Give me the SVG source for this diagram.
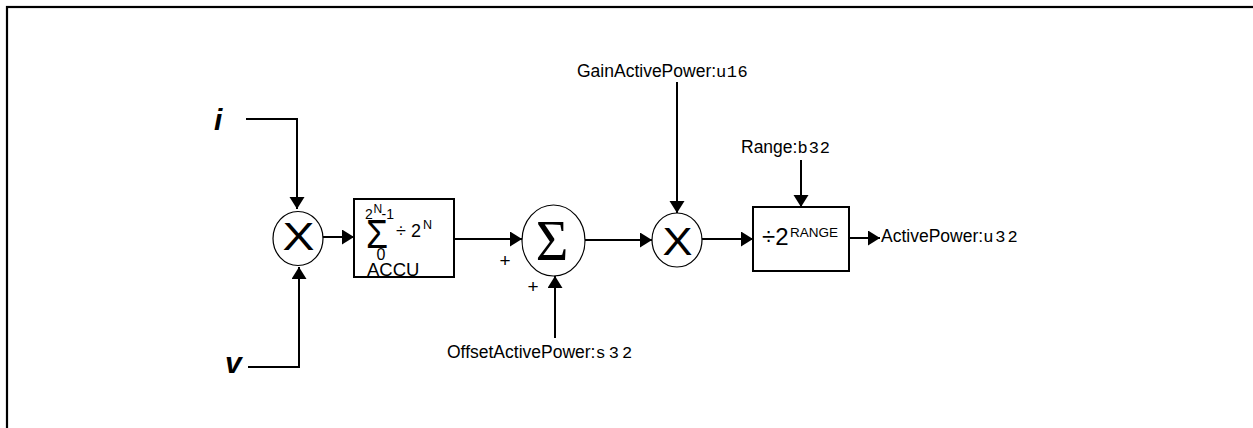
<svg xmlns="http://www.w3.org/2000/svg" width="1253" height="428" viewBox="0 0 1253 428">
<style>
.t{font-family:"Liberation Sans",Arial,sans-serif;font-size:17.5px;fill:#000}
.m{font-family:"Liberation Mono","Courier New",monospace;font-size:17px;fill:#000}
.io{font-family:"Liberation Sans",Arial,sans-serif;font-size:30px;font-weight:bold;font-style:italic;fill:#000}
.c{fill:#fff;stroke:#000;stroke-width:1.2}
.b{fill:#fff;stroke:#000;stroke-width:2}
.w{fill:none;stroke:#000;stroke-width:2}
</style>
<defs>
<marker id="ah" markerUnits="userSpaceOnUse" markerWidth="14" markerHeight="16" refX="12" refY="7.5" orient="auto">
<path d="M0,0 L12,7.5 L0,15 Z" fill="#000"/>
</marker>
</defs>
<rect x="0" y="0" width="1253" height="428" fill="#fff"/>
<rect id="frame" x="7" y="7" width="1270" height="450" fill="none" stroke="#000" stroke-width="2.2"/>
<g id="connectors">
<path class="w" d="M246,119 H297 V209" marker-end="url(#ah)"/>
<path class="w" d="M248,367 H299 V267" marker-end="url(#ah)"/>
<path class="w" d="M323,237 H354" marker-end="url(#ah)"/>
<path class="w" d="M455,239 H522" marker-end="url(#ah)"/>
<path class="w" d="M555,338 V276" marker-end="url(#ah)"/>
<path class="w" d="M585,240 H652" marker-end="url(#ah)"/>
<path class="w" d="M677,82 V213" marker-end="url(#ah)"/>
<path class="w" d="M702,239 H753" marker-end="url(#ah)"/>
<path class="w" d="M801,160 V207" marker-end="url(#ah)"/>
<path class="w" d="M849,238 H880" marker-end="url(#ah)"/>
</g>
<g id="input-i"><text class="io" x="214" y="130">i</text></g>
<g id="input-v"><text class="io" x="225" y="373">v</text></g>
<g id="mult1">
<ellipse class="c" cx="298" cy="238.5" rx="25" ry="27"/>
<text class="t" x="298.5" y="250" style="font-size:39px" text-anchor="middle" textLength="32" lengthAdjust="spacingAndGlyphs">X</text>
</g>
<g id="accu">
<rect class="b" x="354" y="199" width="100" height="78"/>
<text class="t" x="365" y="219" style="font-size:14px">2</text>
<text class="t" x="373.5" y="213" style="font-size:12px">N</text>
<text class="t" x="381.5" y="219" style="font-size:14px">-1</text>
<text class="t" x="366" y="248" style="font-size:40px" textLength="22" lengthAdjust="spacingAndGlyphs">Σ</text>
<text class="t" x="396" y="237" style="font-size:18px">÷ 2</text>
<text class="t" x="423" y="229" style="font-size:12.5px">N</text>
<text class="t" x="376.5" y="260" style="font-size:16px">0</text>
<text class="t" x="367" y="275.5" style="font-size:18.5px">ACCU</text>
</g>
<g id="sum">
<ellipse class="c" cx="553.5" cy="240.5" rx="31.5" ry="35.5"/>
<text x="552" y="260" font-family="'Liberation Serif','Times New Roman',serif" font-size="56" text-anchor="middle">Σ</text>
<text class="t" x="505" y="266.5" text-anchor="middle" style="font-size:19px">+</text>
<text class="t" x="533" y="292.5" text-anchor="middle" style="font-size:19px">+</text>
</g>
<g id="offset"><text class="t" x="447" y="358">OffsetActivePower:<tspan class="m" letter-spacing="3">s32</tspan></text></g>
<g id="mult2">
<ellipse class="c" cx="677" cy="240" rx="25" ry="27"/>
<text class="t" x="677.5" y="255" style="font-size:39px" text-anchor="middle" textLength="30" lengthAdjust="spacingAndGlyphs">X</text>
</g>
<g id="gain"><text class="t" x="577" y="77">GainActivePower:<tspan class="m" letter-spacing="0.5">u16</tspan></text></g>
<g id="range"><text class="t" x="741" y="153">Range:<tspan class="m" letter-spacing="1">b32</tspan></text></g>
<g id="divrange">
<rect class="b" x="753" y="207" width="96" height="64"/>
<text class="t" x="762" y="245" style="font-size:24px">÷2</text>
<text class="t" x="790" y="237" style="font-size:13.5px">RANGE</text>
</g>
<g id="output"><text class="t" x="881" y="242">ActivePower:<tspan class="m" letter-spacing="2">u32</tspan></text></g>
</svg>
